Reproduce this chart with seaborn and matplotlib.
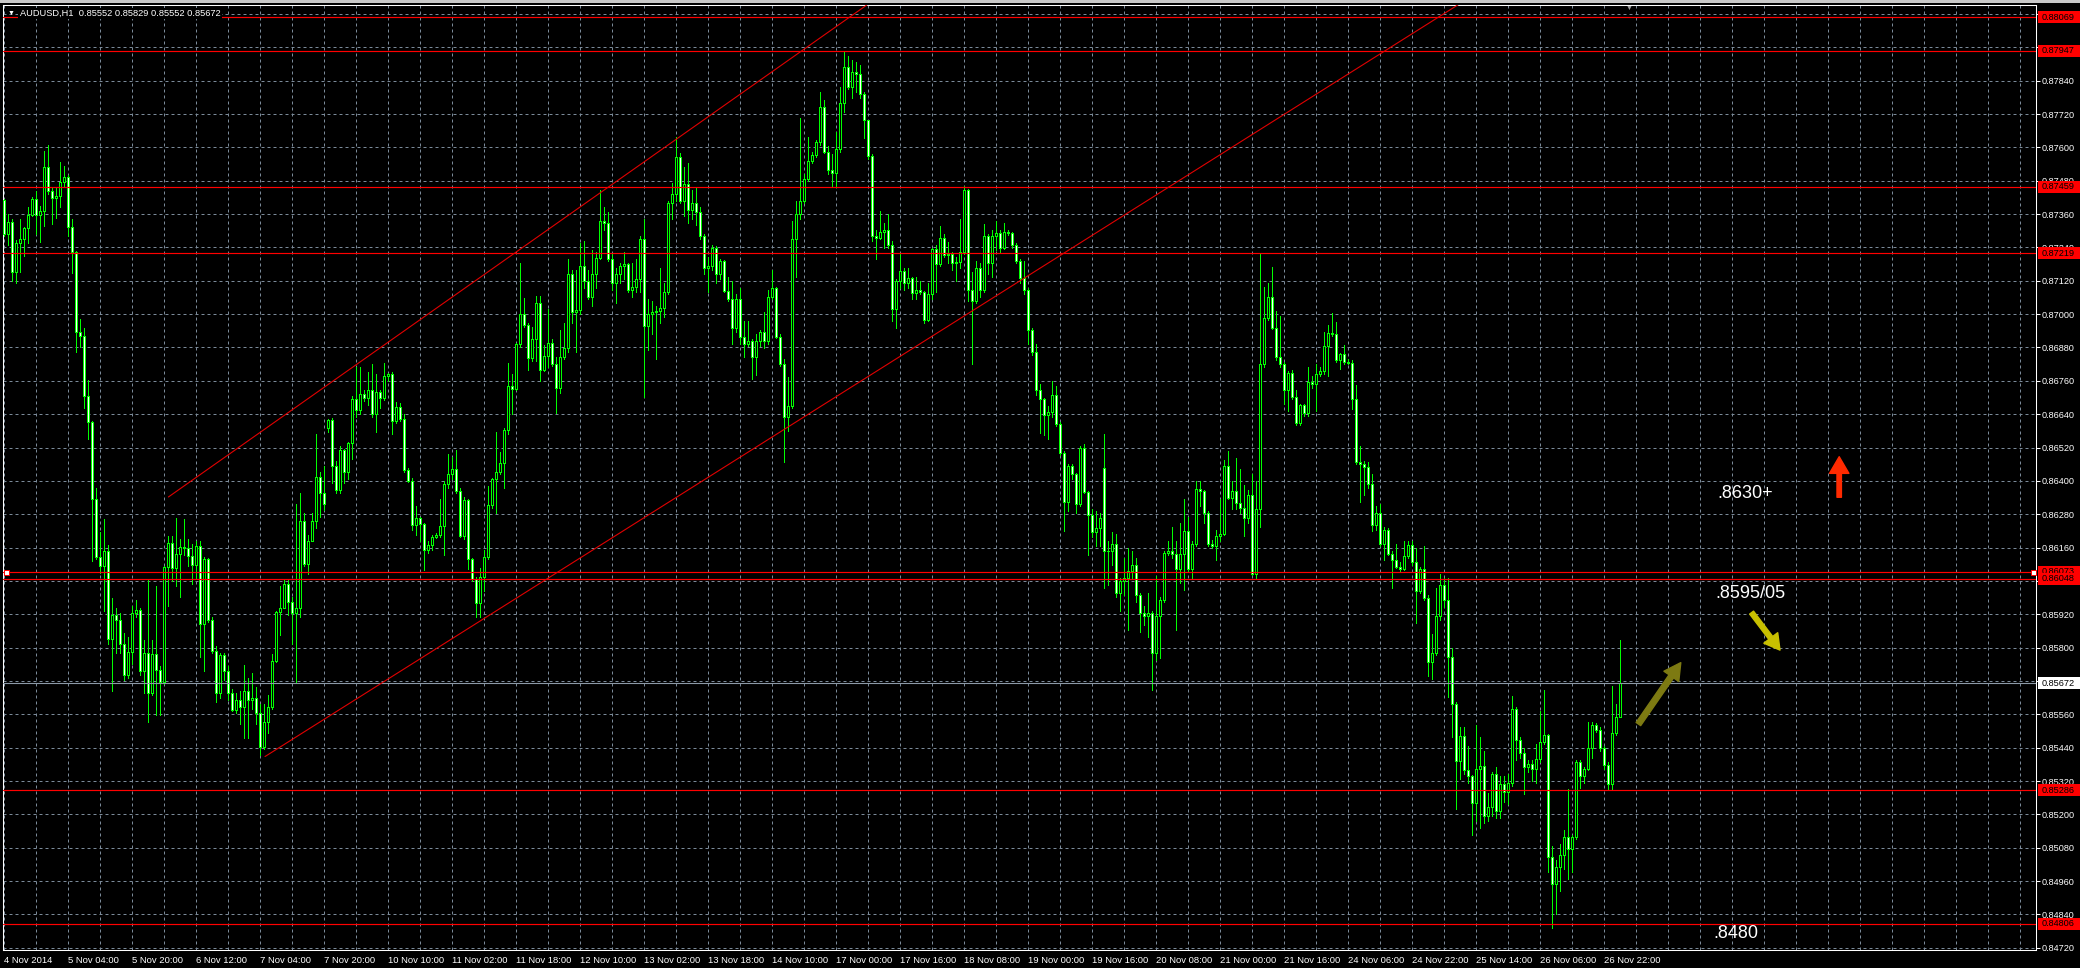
import numpy as np
import matplotlib
matplotlib.use("Agg")
import matplotlib.pyplot as plt
import seaborn as sns
from matplotlib.patches import Rectangle
from matplotlib.ticker import MultipleLocator, FormatStrFormatter

# AUDUSD H1 candles, 4 Nov 2014 .. 27 Nov 2014, prices in points (1e-5)
open_pts = [
    87410, 87290, 87330, 87153, 87257, 87270, 87309, 87357, 87415, 87357,
    87370, 87530, 87442, 87418, 87426, 87477, 87495, 87314, 87225, 86936,
    86920, 86704, 86612, 86334, 86126, 86094, 86147, 85832, 85917, 85901,
    85813, 85700, 85784, 85925, 85936, 85717, 85781, 85636, 85776, 85720,
    85676, 86089, 86177, 86086, 86137, 86161, 86158, 86129, 86099, 86166,
    85885, 86118, 85901, 85789, 85636, 85773, 85717, 85636, 85575, 85612,
    85585, 85644, 85612, 85620, 85564, 85444, 85532, 85585, 85752, 85928,
    85944, 86030, 85965, 85925, 85941, 86254, 86102, 86185, 86257, 86415,
    86358, 86591, 86619, 86455, 86367, 86511, 86431, 86535, 86696, 86655,
    86712, 86699, 86728, 86639, 86720, 86699, 86779, 86784, 86615, 86667,
    86623, 86439, 86399, 86243, 86265, 86246, 86153, 86169, 86198, 86206,
    86238, 86387, 86423, 86442, 86362, 86201, 86330, 86118, 86046, 85961,
    86054, 86126, 86314, 86407, 86431, 86463, 86583, 86741, 86731, 86892,
    87001, 86961, 86843, 86912, 87041, 86800, 86848, 86896, 86822, 86734,
    86846, 86878, 87143, 87007, 87015, 87175, 87119, 87063, 87143, 87203,
    87336, 87328, 87199, 87111, 87146, 87175, 87179, 87087, 87098, 87127,
    87272, 86959, 86999, 87007, 87012, 87023, 87079, 87400, 87432, 87564,
    87408, 87467, 87376, 87400, 87368, 87280, 87167, 87175, 87239, 87143,
    87191, 87082, 87055, 86951, 87055, 86918, 86894, 86902, 86846, 86902,
    86935, 86902, 87063, 87095, 86918, 86822, 86630, 86670, 87272, 87360,
    87408, 87488, 87552, 87573, 87621, 87745, 87585, 87520, 87509, 87593,
    87761, 87890, 87818, 87873, 87865, 87793, 87697, 87569, 87280, 87275,
    87296, 87304, 87248, 87018, 87119, 87156, 87111, 87130, 87076, 87087,
    87079, 86979, 87071, 87236, 87179, 87275, 87212, 87215, 87183, 87188,
    87223, 87448, 87087, 87047, 87167, 87087, 87280, 87183, 87280, 87291,
    87239, 87296, 87291, 87248, 87191, 87130, 87087, 86943, 86862, 86726,
    86694, 86638, 86649, 86710, 86605, 86501, 86325, 86453, 86424, 86317,
    86517, 86360, 86276, 86216, 86230, 86447, 86149, 86146, 86174, 85998,
    86040, 86049, 86074, 86099, 85990, 85923, 85915, 85923, 85781, 85915,
    85973, 86141, 86146, 86136, 86082, 86136, 86220, 86082, 86174, 86370,
    86364, 86283, 86174, 86166, 86203, 86208, 86454, 86337, 86364, 86320,
    86303, 86266, 86350, 86065, 86300, 86819, 86987, 87062, 86950, 86844,
    86819, 86727, 86789, 86702, 86610, 86672, 86643, 86756, 86749, 86786,
    86794, 86886, 86933, 86928, 86836, 86856, 86828, 86823, 86694, 86468,
    86459, 86451, 86387, 86241, 86283, 86174, 86225, 86136, 86116, 86091,
    86082, 86129, 86169, 86107, 86002, 86082, 85978, 85747, 85781, 85915,
    86024, 85973, 85767, 85596, 85392, 85482, 85358, 85337, 85241, 85365,
    85375, 85194, 85228, 85345, 85211, 85308, 85281, 85312, 85580, 85466,
    85420, 85370, 85382, 85362, 85399, 85462, 85487, 85047, 84951, 85010,
    85052, 85119, 85077, 85119, 85387, 85337, 85362, 85437, 85521, 85504,
    85437, 85379, 85308, 85492, 85552,
]
high_pts = [
    87415, 87362, 87341, 87265, 87341, 87314, 87386, 87421, 87442, 87389,
    87586, 87610, 87458, 87453, 87546, 87533, 87500, 87341, 87228, 86981,
    86949, 86763, 86615, 86375, 86217, 86262, 86169, 85977, 85941, 85925,
    85853, 85837, 85949, 85973, 85944, 85829, 86046, 85829, 86021, 85733,
    86094, 86201, 86201, 86265, 86190, 86262, 86190, 86174, 86182, 86182,
    86126, 86121, 85909, 85805, 85781, 85781, 85733, 85652, 85636, 85644,
    85736, 85692, 85709, 85660, 85596, 85596, 85628, 85778, 85933, 86021,
    86046, 86046, 85981, 86318, 86358, 86286, 86206, 86286, 86567, 86431,
    86455, 86623, 86625, 86471, 86527, 86515, 86540, 86704, 86808, 86808,
    86728, 86792, 86821, 86784, 86728, 86824, 86789, 86790, 86683, 86680,
    86639, 86445, 86410, 86310, 86270, 86250, 86182, 86206, 86214, 86334,
    86399, 86495, 86487, 86511, 86375, 86342, 86334, 86122, 86054, 86086,
    86150, 86383, 86410, 86575, 86503, 86591, 86824, 86784, 86896, 87185,
    87057, 86969, 86952, 87065, 87065, 86888, 87017, 86910, 86846, 86943,
    86967, 87199, 87159, 87159, 87256, 87264, 87159, 87231, 87223, 87445,
    87384, 87368, 87215, 87167, 87183, 87223, 87185, 87183, 87199, 87280,
    87344, 87055, 87047, 87031, 87167, 87111, 87408, 87472, 87638, 87580,
    87528, 87544, 87448, 87456, 87384, 87288, 87207, 87248, 87245, 87199,
    87195, 87135, 87119, 87071, 87095, 86975, 86975, 86910, 86927, 86943,
    87007, 87087, 87159, 87098, 86927, 86838, 86774, 87336, 87408, 87705,
    87504, 87638, 87585, 87628, 87798, 87769, 87604, 87577, 87657, 87818,
    87946, 87930, 87914, 87906, 87898, 87798, 87700, 87577, 87304, 87371,
    87328, 87360, 87264, 87127, 87215, 87167, 87167, 87135, 87135, 87119,
    87085, 87111, 87239, 87248, 87316, 87288, 87259, 87223, 87207, 87344,
    87461, 87452, 87151, 87191, 87183, 87323, 87288, 87304, 87336, 87304,
    87328, 87304, 87296, 87256, 87199, 87191, 87095, 86951, 86894, 86750,
    86700, 86670, 86758, 86742, 86613, 86509, 86461, 86461, 86429, 86525,
    86533, 86365, 86300, 86292, 86283, 86568, 86183, 86216, 86208, 86049,
    86124, 86158, 86149, 86124, 85998, 85948, 85998, 85931, 86057, 85982,
    86149, 86183, 86233, 86183, 86250, 86333, 86270, 86183, 86400, 86400,
    86367, 86292, 86186, 86225, 86333, 86476, 86509, 86400, 86484, 86442,
    86384, 86367, 86426, 86400, 87218, 87096, 87112, 87171, 87012, 86995,
    86828, 86794, 86799, 86727, 86677, 86677, 86811, 86777, 86819, 86811,
    86937, 86962, 87004, 86970, 86861, 86890, 86839, 86836, 86744, 86526,
    86471, 86468, 86426, 86308, 86317, 86233, 86230, 86149, 86174, 86107,
    86183, 86183, 86183, 86158, 86091, 86166, 85990, 85848, 86015, 86065,
    86049, 86049, 85797, 85605, 85513, 85513, 85446, 85340, 85521, 85479,
    85429, 85278, 85353, 85370, 85337, 85337, 85345, 85626, 85588, 85479,
    85437, 85395, 85395, 85454, 85571, 85646, 85490, 85085, 85035, 85094,
    85144, 85291, 85125, 85395, 85395, 85370, 85533, 85533, 85529, 85513,
    85446, 85387, 85663, 85596, 85829,
]
low_pts = [
    87282, 87249, 87121, 87113, 87153, 87209, 87257, 87354, 87290, 87261,
    87317, 87434, 87325, 87346, 87386, 87458, 87282, 87148, 86864, 86880,
    86663, 86551, 86110, 86118, 86070, 85933, 85813, 85644, 85781, 85781,
    85684, 85692, 85741, 85909, 85700, 85636, 85532, 85630, 85556, 85556,
    85670, 85949, 86038, 86021, 85981, 86134, 86094, 86030, 86046, 85765,
    85717, 85893, 85781, 85604, 85620, 85684, 85612, 85572, 85564, 85524,
    85476, 85476, 85580, 85524, 85412, 85436, 85492, 85580, 85749, 85845,
    85941, 85917, 85813, 85676, 85909, 86094, 86066, 86182, 86230, 86270,
    86294, 86575, 86391, 86358, 86358, 86391, 86407, 86479, 86631, 86639,
    86688, 86672, 86631, 86575, 86663, 86690, 86760, 86567, 86607, 86615,
    86431, 86395, 86222, 86206, 86182, 86078, 86142, 86150, 86195, 86198,
    86134, 86375, 86407, 86358, 86198, 86190, 86082, 86038, 85909, 85909,
    86005, 86120, 86302, 86286, 86423, 86375, 86567, 86639, 86728, 86880,
    86952, 86800, 86832, 86832, 86760, 86795, 86808, 86814, 86646, 86718,
    86840, 86862, 86967, 86862, 86999, 87095, 87055, 87031, 87095, 87199,
    87304, 87191, 87087, 87039, 87111, 87127, 87079, 87063, 87079, 87079,
    86702, 86870, 86927, 86838, 86967, 86991, 87071, 87344, 87408, 87400,
    87352, 87328, 87344, 87320, 87272, 87143, 87079, 87159, 87111, 87127,
    87079, 87047, 86894, 86935, 86894, 86846, 86886, 86766, 86782, 86886,
    86878, 86894, 87055, 86915, 86814, 86469, 86581, 86662, 87135, 87344,
    87400, 87480, 87544, 87565, 87609, 87580, 87504, 87456, 87456, 87585,
    87729, 87810, 87777, 87801, 87777, 87633, 87560, 87264, 87199, 87272,
    87239, 87239, 86975, 86951, 87095, 87087, 87095, 87055, 87055, 87071,
    86967, 86975, 87055, 87079, 87175, 87207, 87183, 87159, 87119, 87167,
    87215, 87047, 86822, 87039, 87063, 87079, 87143, 87135, 87231, 87223,
    87235, 87284, 87239, 87183, 87111, 87071, 86894, 86854, 86710, 86573,
    86565, 86549, 86630, 86597, 86493, 86220, 86292, 86405, 86284, 86308,
    86357, 86132, 86199, 86166, 86166, 86015, 86024, 86099, 85982, 85931,
    85990, 85864, 86049, 85965, 85856, 85881, 85839, 85646, 85755, 85764,
    85965, 86132, 86124, 85864, 86032, 86007, 86074, 86049, 86166, 86308,
    86250, 86166, 86157, 86116, 86183, 86205, 86333, 86300, 86300, 86283,
    86203, 86250, 86062, 86049, 86233, 86811, 86978, 86945, 86836, 86811,
    86677, 86652, 86694, 86602, 86602, 86635, 86635, 86736, 86652, 86777,
    86786, 86777, 86920, 86828, 86803, 86819, 86819, 86660, 86459, 86325,
    86350, 86375, 86220, 86225, 86166, 86116, 86132, 86015, 86086, 86074,
    86079, 86124, 86099, 85890, 85998, 85973, 85697, 85688, 85772, 85898,
    85945, 85621, 85479, 85219, 85328, 85345, 85312, 85127, 85177, 85152,
    85169, 85177, 85194, 85186, 85186, 85244, 85236, 85303, 85395, 85404,
    85275, 85353, 85320, 85312, 85387, 85454, 84993, 84792, 84842, 84926,
    85002, 84968, 84993, 85110, 85295, 85312, 85358, 85404, 85496, 85429,
    85362, 85286, 85291, 85487, 85552,
]
close_pts = [
    87290, 87330, 87153, 87257, 87270, 87309, 87357, 87415, 87357, 87370,
    87530, 87442, 87418, 87426, 87477, 87495, 87314, 87225, 86936, 86920,
    86704, 86612, 86334, 86126, 86094, 86147, 85832, 85917, 85901, 85813,
    85700, 85784, 85925, 85936, 85717, 85781, 85636, 85776, 85720, 85676,
    86089, 86177, 86086, 86137, 86161, 86158, 86129, 86099, 86166, 85885,
    86118, 85901, 85789, 85636, 85773, 85717, 85636, 85575, 85612, 85585,
    85644, 85612, 85620, 85564, 85444, 85532, 85585, 85752, 85928, 85944,
    86030, 85965, 85925, 85941, 86254, 86102, 86185, 86257, 86415, 86358,
    86318, 86619, 86455, 86367, 86511, 86431, 86535, 86696, 86655, 86712,
    86699, 86728, 86639, 86720, 86699, 86779, 86784, 86615, 86667, 86623,
    86439, 86399, 86243, 86265, 86246, 86153, 86169, 86198, 86206, 86238,
    86387, 86423, 86442, 86362, 86201, 86330, 86118, 86046, 85961, 86054,
    86126, 86314, 86407, 86431, 86463, 86583, 86741, 86731, 86892, 87001,
    86961, 86843, 86912, 87041, 86800, 86848, 86896, 86822, 86734, 86846,
    86878, 87143, 87007, 87015, 87175, 87119, 87063, 87143, 87203, 87336,
    87328, 87199, 87111, 87146, 87175, 87179, 87087, 87098, 87127, 87272,
    86959, 86999, 87007, 87012, 87023, 87079, 87400, 87432, 87564, 87408,
    87467, 87376, 87400, 87368, 87280, 87167, 87175, 87239, 87143, 87191,
    87082, 87055, 86951, 87055, 86918, 86894, 86902, 86846, 86902, 86935,
    86902, 87063, 87095, 86918, 86822, 86630, 86670, 87272, 87360, 87408,
    87488, 87552, 87573, 87621, 87745, 87585, 87520, 87509, 87593, 87761,
    87890, 87818, 87873, 87865, 87793, 87697, 87569, 87280, 87275, 87296,
    87304, 87248, 87018, 87119, 87156, 87111, 87130, 87076, 87087, 87079,
    86979, 87071, 87236, 87179, 87275, 87212, 87215, 87183, 87188, 87223,
    87448, 87087, 87047, 87167, 87087, 87280, 87183, 87280, 87291, 87239,
    87296, 87291, 87248, 87191, 87130, 87087, 86943, 86862, 86726, 86694,
    86638, 86649, 86710, 86605, 86501, 86325, 86453, 86424, 86317, 86517,
    86360, 86276, 86216, 86230, 86266, 86149, 86146, 86174, 85998, 86040,
    86049, 86074, 86099, 85990, 85923, 85915, 85923, 85781, 85915, 85973,
    86141, 86146, 86136, 86082, 86136, 86220, 86082, 86174, 86370, 86364,
    86283, 86174, 86166, 86203, 86208, 86454, 86337, 86364, 86320, 86303,
    86266, 86350, 86065, 86300, 86819, 86987, 87062, 86950, 86844, 86819,
    86727, 86789, 86702, 86610, 86672, 86643, 86756, 86749, 86786, 86794,
    86886, 86933, 86928, 86836, 86856, 86828, 86823, 86694, 86468, 86459,
    86451, 86387, 86241, 86283, 86174, 86225, 86136, 86116, 86091, 86082,
    86129, 86169, 86107, 86002, 86082, 85978, 85747, 85781, 85915, 86024,
    85973, 85767, 85596, 85392, 85482, 85358, 85337, 85241, 85365, 85375,
    85194, 85228, 85345, 85211, 85308, 85281, 85312, 85580, 85466, 85420,
    85370, 85382, 85362, 85399, 85462, 85487, 85047, 84951, 85010, 85052,
    85119, 85077, 85119, 85387, 85337, 85362, 85437, 85521, 85504, 85437,
    85379, 85308, 85492, 85549, 85672,
]

# time axis labels, one every 16 bars
time_labels = [
    "4 Nov 2014", "5 Nov 04:00", "5 Nov 20:00", "6 Nov 12:00", "7 Nov 04:00",
    "7 Nov 20:00", "10 Nov 10:00", "11 Nov 02:00", "11 Nov 18:00", "12 Nov 10:00",
    "13 Nov 02:00", "13 Nov 18:00", "14 Nov 10:00", "17 Nov 00:00", "17 Nov 16:00",
    "18 Nov 08:00", "19 Nov 00:00", "19 Nov 16:00", "20 Nov 08:00", "21 Nov 00:00",
    "21 Nov 16:00", "24 Nov 06:00", "24 Nov 22:00", "25 Nov 14:00", "26 Nov 06:00",
    "26 Nov 22:00",
]

# horizontal levels drawn on the chart
levels = [0.88069, 0.87947, 0.87459, 0.87219, 0.86073, 0.86048, 0.85286, 0.84806]
bid_price = 0.85672
selected_level = 0.86073
selected_handles_x = [0.5, 507.25]

# trend lines (bar index, price)
upper_line_x = [41.1, 220.0]
upper_line_y = [0.86342, 0.88156]
lower_line_x = [65.25, 370.0]
lower_line_y = [0.85408, 0.88172]

# hand-written notes
note_text = [".8630+", ".8595/05", ".8480"]
note_x = [435.25, 436.5, 433.0]
note_y = [0.86353, 0.85996, 0.84773]

# arrows: tail -> tip
arrow_tail_x = [458.8, 436.9, 408.6]
arrow_tail_y = [0.86341, 0.85926, 0.85525]
arrow_tip_x = [458.8, 444.0, 419.2]
arrow_tip_y = [0.86487, 0.85791, 0.85746]
arrow_colors = ["#ff2a00", "#c8c000", "#7d7a12"]


def main():
    sns.set_theme(style="dark", rc={
        "axes.facecolor": "black",
        "figure.facecolor": "black",
        "axes.edgecolor": "white",
        "text.color": "white",
        "xtick.color": "white",
        "ytick.color": "white",
    })
    plt.rcParams["font.family"] = ["Liberation Sans", "DejaVu Sans"]

    o = np.array(open_pts) / 1e5
    h = np.array(high_pts) / 1e5
    l = np.array(low_pts) / 1e5
    c = np.array(close_pts) / 1e5
    x = np.arange(len(c))

    fig = plt.figure(figsize=(20.8, 9.68), dpi=100)
    ax = fig.add_axes([3 / 2080, 18 / 968, 2033 / 2080, 945 / 968])
    ax.set_facecolor("black")

    lime = "#00ff00"
    # candles: wicks then bodies (bear = white body, bull = black body)
    ax.vlines(x, l, h, colors=lime, linewidth=0.72, zorder=3, antialiased=False)
    fills = ["black" if cc >= oo else "white" for oo, cc in zip(o, c)]
    ax.bar(x, np.abs(c - o), bottom=np.minimum(o, c), width=0.5, color=fills,
           edgecolor=lime, linewidth=0.6, zorder=4, antialiased=False)

    # levels + bid line
    for lv in levels:
        ax.axhline(lv, color="#ff0000", linewidth=0.85, zorder=5)
    ax.axhline(bid_price, color="#8c99a6", linewidth=0.8, zorder=5)
    ax.plot(selected_handles_x, [selected_level] * 2, "s", ms=3.6, mfc="white",
            mec="#ff0000", mew=0.7, zorder=9, clip_on=False)

    # trend lines
    sns.lineplot(x=upper_line_x, y=upper_line_y, ax=ax, color="#e00000", linewidth=0.8, zorder=5)
    sns.lineplot(x=lower_line_x, y=lower_line_y, ax=ax, color="#e00000", linewidth=0.8, zorder=5)

    # notes and arrows
    for t, nx, ny in zip(note_text, note_x, note_y):
        ax.text(nx, ny, t, color="white", fontsize=13, ha="center", va="center", zorder=9)
    styles = ["simple,head_length=1.2,head_width=1.4,tail_width=0.32",
              "simple,head_length=1.1,head_width=1.25,tail_width=0.35",
              "simple,head_length=1.2,head_width=1.3,tail_width=0.4"]
    for tx, ty, px, py, col, st in zip(arrow_tail_x, arrow_tail_y, arrow_tip_x, arrow_tip_y,
                                       arrow_colors, styles):
        ax.annotate("", xy=(px, py), xytext=(tx, ty), zorder=9,
                    arrowprops=dict(arrowstyle=st, color=col, shrinkA=0, shrinkB=0,
                                    mutation_scale=10))

    # axes limits, ticks, grid
    ax.set_xlim(-0.25, 508)
    ax.set_ylim(0.847119, 0.881124)
    ax.set_xticks(np.arange(len(time_labels)) * 16)
    ax.set_xticklabels(time_labels, ha="left")
    ax.xaxis.set_minor_locator(MultipleLocator(8))
    yt = np.round(np.arange(0.84720, 0.88081, 0.0012), 5)
    ax.set_yticks(yt)
    ax.yaxis.set_major_formatter(FormatStrFormatter("%.5f"))
    ax.tick_params(axis="y", left=False, right=True, labelleft=False, labelright=True,
                   length=2.9, width=0.75, pad=1.5, labelsize=6.6, colors="white", direction="out")
    ax.tick_params(axis="x", which="major", length=2.2, width=0.75, pad=2.4, labelsize=6.8,
                   colors="white", direction="out")
    ax.tick_params(axis="x", which="minor", length=0)
    ax.set_axisbelow(True)
    ax.grid(True, which="both", axis="x", color="#7b8a99", linestyle=(0, (3, 3)), linewidth=0.72)
    ax.grid(True, which="major", axis="y", color="#7b8a99", linestyle=(0, (3, 3)), linewidth=0.72)
    ax.set_xlabel("")
    ax.set_ylabel("")
    for s in ax.spines.values():
        s.set_color("white")
        s.set_linewidth(0.75)
        s.set_visible(True)

    # price boxes on the right scale
    y0, y1 = ax.get_ylim()
    box_h = (y1 - y0) * 12 / 945
    ytr = ax.get_yaxis_transform()
    boxes = [(lv, "#ff0000") for lv in levels] + [(bid_price, "white")]
    for i, (lv, fc) in enumerate(boxes):
        ax.add_patch(Rectangle((1.0009, lv - box_h / 2), 0.03, box_h, transform=ytr,
                               facecolor=fc, edgecolor="none", clip_on=False, zorder=20 + 2 * i))
        ax.text(1.003, lv, "%.5f" % lv, transform=ytr, color="black", fontsize=6.6,
                ha="left", va="center", clip_on=False, zorder=21 + 2 * i)

    # header
    header = "AUDUSD,H1  %.5f %.5f %.5f %.5f" % (o[-1], h[-1], l[-1], c[-1])
    ax.text(0.0083, 0.991, header, transform=ax.transAxes, color="white", fontsize=6.7,
            ha="left", va="center", zorder=30,
            bbox=dict(facecolor="black", edgecolor="none", pad=1.0))
    ax.text(0.0039, 0.9915, "\u25bc", transform=ax.transAxes, color="white", fontsize=5,
            ha="center", va="center", zorder=30)
    ax.text(406.25, 1.0, "\u25bc", transform=ax.get_xaxis_transform(), color="#a0a0a0",
            fontsize=5, ha="center", va="top", zorder=30)

    fig.add_artist(Rectangle((0, 1 - 3 / 968), 1, 3 / 968, transform=fig.transFigure,
                             facecolor="#c8c8c8", edgecolor="none"))

    fig.savefig("out.png", dpi=100, facecolor="black")


if __name__ == "__main__":
    main()
